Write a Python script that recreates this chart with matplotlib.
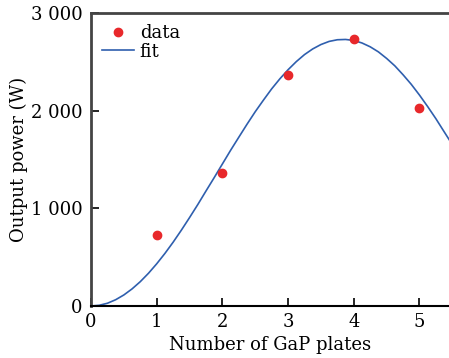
import numpy as np
import matplotlib.pyplot as plt
from matplotlib.ticker import FuncFormatter

# measured output power vs. number of GaP plates
plates = [1, 2, 3, 4, 5]
power = [727, 1360, 2364, 2733, 2027]

# fitted curve, sampled every 0.125 plate
fit_x = [0.0, 0.125, 0.25, 0.375, 0.5, 0.625, 0.75, 0.875,
         1.0, 1.125, 1.25, 1.375, 1.5, 1.625, 1.75, 1.875,
         2.0, 2.125, 2.25, 2.375, 2.5, 2.625, 2.75, 2.875,
         3.0, 3.125, 3.25, 3.375, 3.5, 3.625, 3.75, 3.875,
         4.0, 4.125, 4.25, 4.375, 4.5, 4.625, 4.75, 4.875,
         5.0, 5.125, 5.25, 5.375, 5.5]
fit_y = [0, 7, 28, 64, 113, 175, 249, 335,
         432, 538, 653, 776, 905, 1038, 1177, 1314,
         1454, 1594, 1728, 1861, 1989, 2108, 2223, 2326,
         2419, 2502, 2574, 2632, 2677, 2709, 2726, 2729,
         2719, 2693, 2654, 2602, 2535, 2459, 2368, 2270,
         2160, 2042, 1918, 1785, 1653]

plt.rcParams['font.family'] = ['DejaVu Serif']

fig = plt.figure(figsize=(4.49, 3.58), dpi=100)
ax = fig.add_axes([0.2027, 0.1453, 0.7973, 0.8184])

ax.plot(fit_x, fit_y, color='#2f5fae', lw=1.2, label='fit', zorder=2)
ax.plot(plates, power, 'o', color='#e8282b', ms=6, label='data', zorder=3)

ax.set_xlim(0, 5.45)
ax.set_ylim(0, 3000)
ax.set_xticks([0, 1, 2, 3, 4, 5])
ax.set_yticks([0, 1000, 2000, 3000])
ax.yaxis.set_major_formatter(FuncFormatter(lambda v, p: '{:,}'.format(int(v)).replace(',', ' ')))
ax.tick_params(direction='in', length=6, width=1.2, labelsize=13)
ax.tick_params(axis='y', pad=6)
ax.tick_params(axis='x', pad=5)

ax.spines['right'].set_visible(False)
ax.spines['top'].set_color('#444444')
ax.spines['top'].set_linewidth(2)
ax.spines['left'].set_color('#444444')
ax.spines['left'].set_linewidth(2)
ax.spines['bottom'].set_linewidth(1.5)

ax.set_xlabel('Number of GaP plates', fontsize=13, labelpad=4)
ax.set_ylabel('Output power (W)', fontsize=13, labelpad=2)

handles, labels = ax.get_legend_handles_labels()
ax.legend(handles[::-1], labels[::-1], loc='upper left', frameon=False,
          fontsize=13, handlelength=1.8, handletextpad=0.3,
          borderpad=0.0, borderaxespad=0.6, labelspacing=0.05)

fig.savefig('out.png', dpi=100)
